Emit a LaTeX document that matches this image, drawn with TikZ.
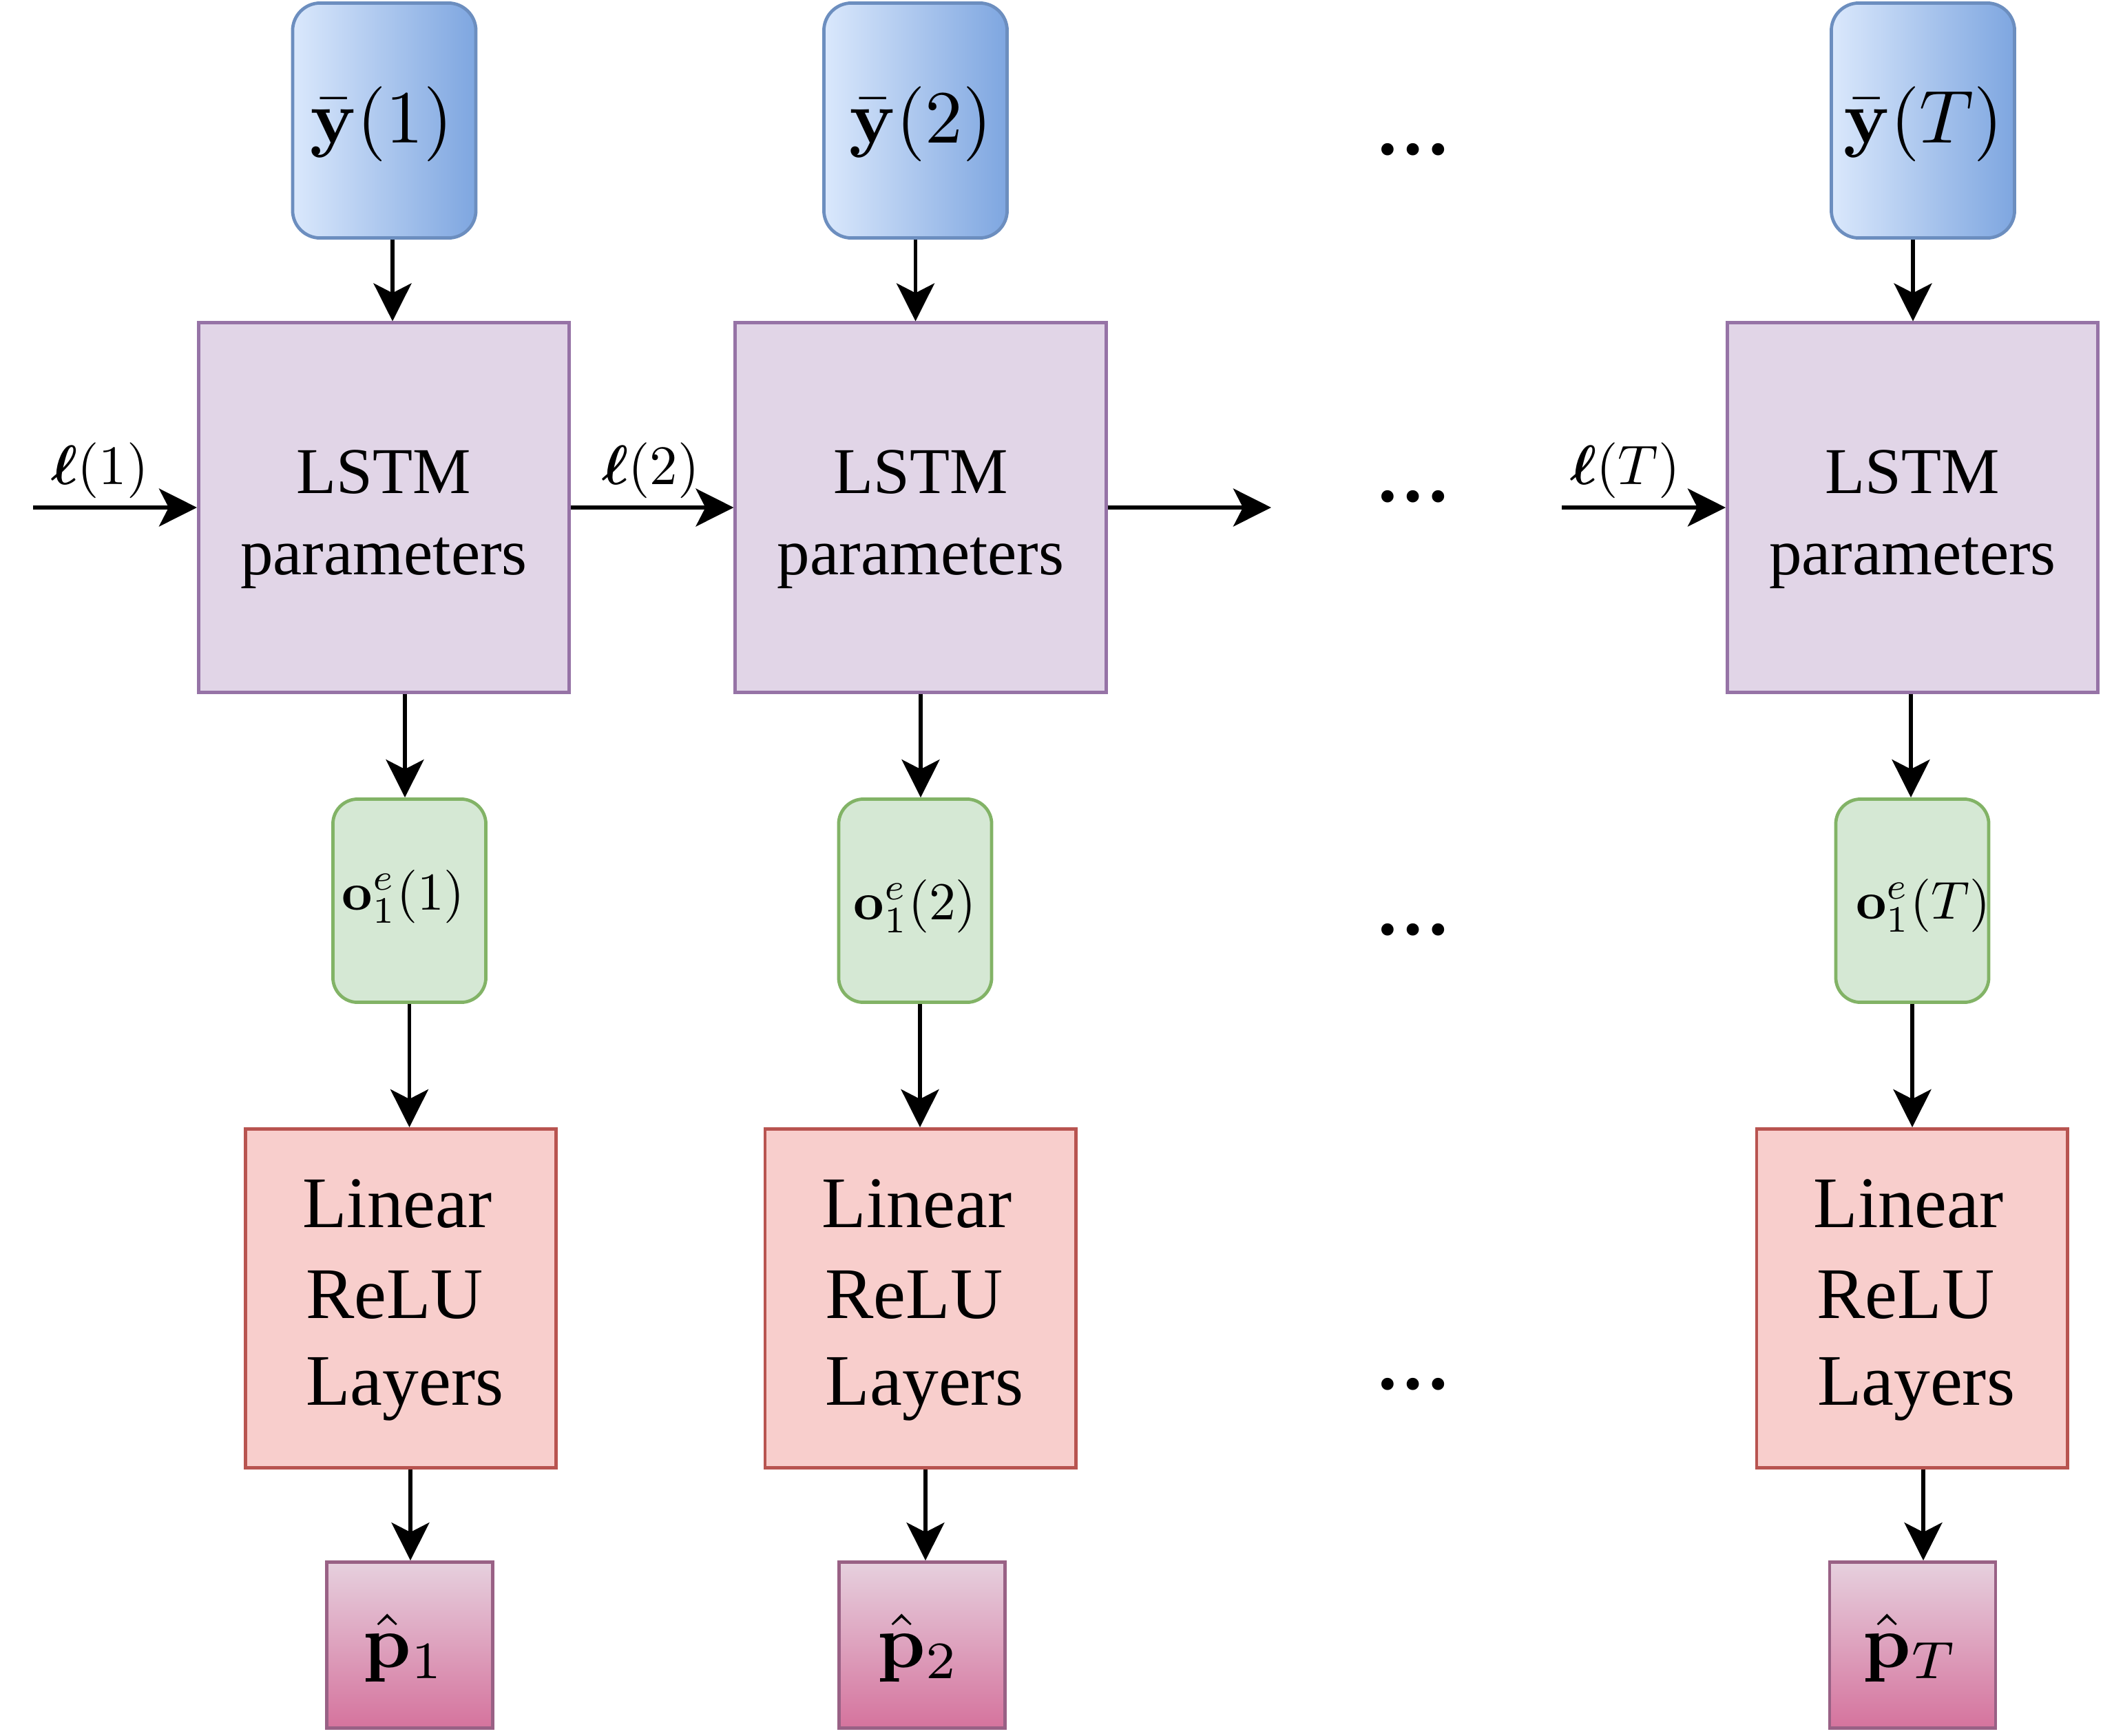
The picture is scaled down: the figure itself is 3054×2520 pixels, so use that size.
\RequirePackage{fix-cm}
\documentclass[tikz,border=0pt]{standalone}
\usepackage{amsmath}
\usepackage{bm}
\usepackage[no-math]{fontspec}
\setmainfont{Liberation Serif}
\newfontfamily\dotsfont{Liberation Serif}
\usetikzlibrary{arrows.meta}

\definecolor{bluefillA}{HTML}{DAE8FC}
\definecolor{bluefillB}{HTML}{7EA6E0}
\definecolor{bluedraw}{HTML}{6C8EBF}
\definecolor{lstmfill}{HTML}{E1D5E7}
\definecolor{lstmdraw}{HTML}{9673A6}
\definecolor{greenfill}{HTML}{D5E8D4}
\definecolor{greendraw}{HTML}{82B366}
\definecolor{redfill}{HTML}{F8CECC}
\definecolor{reddraw}{HTML}{B85450}
\definecolor{pinkA}{HTML}{E6D0DE}
\definecolor{pinkB}{HTML}{D5739D}
\definecolor{pinkdraw}{HTML}{996185}

\newcommand\mathat[2]{\scalebox{#1}{$#2$}}

\tikzset{
  box/.style={draw, line width=1.35pt, inner sep=0pt},
  ybox/.style={box, rounded corners=0.4cm, draw=bluedraw, left color=bluefillA, right color=bluefillB,
    minimum width=2.66cm, minimum height=3.41cm},
  lstmbox/.style={box, draw=lstmdraw, fill=lstmfill, minimum width=5.38cm, minimum height=5.36cm},
  obox/.style={box, rounded corners=0.36cm, draw=greendraw, fill=greenfill, minimum width=2.22cm, minimum height=2.95cm},
  relubox/.style={box, draw=reddraw, fill=redfill, minimum width=4.51cm, minimum height=4.92cm},
  pbox/.style={box, draw=pinkdraw, top color=pinkA, bottom color=pinkB, minimum width=2.41cm, minimum height=2.41cm},
  txt/.style={inner sep=0pt, anchor=base},
  mathtxt/.style={txt, font=\fontsize{10pt}{12pt}\selectfont},
  lstmtxt/.style={txt, font=\fontsize{27pt}{32pt}\selectfont},
  relutxt/.style={txt, font=\fontsize{30pt}{36pt}\selectfont},
  dotstxt/.style={txt, font=\dotsfont\bfseries\fontsize{31pt}{37pt}\selectfont},
  arr/.style={line width=1.45pt, -{Stealth[length=0.55cm, width=0.55cm, inset=0.14cm]}},
}

\begin{document}
\begin{tikzpicture}[x=0.01cm, y=-0.01cm]
\useasboundingbox (0,0) rectangle (3054,2520);

% boxes
\node[ybox] (y1) at (558,175) {};
\node[ybox] (y2) at (1329.5,175) {};
\node[ybox] (y3) at (2792.5,175) {};

\node[lstmbox] (l1) at (557.5,737) {};
\node[lstmbox] (l2) at (1337,737) {};
\node[lstmbox] (l3) at (2777.5,737) {};

\node[obox] (o1) at (594.5,1308) {};
\node[obox] (o2) at (1329,1308) {};
\node[obox] (o3) at (2777,1308) {};

\node[relubox] (r1) at (582,1885.5) {};
\node[relubox] (r2) at (1336.5,1885.5) {};
\node[relubox] (r3) at (2776.5,1885.5) {};

\node[pbox] (p1) at (595,2389) {};
\node[pbox] (p2) at (1339,2389) {};
\node[pbox] (p3) at (2777.5,2389) {};

% texts
\node[mathtxt] (y1t) at (554,207) {\mathat{3.1}{\bar{\mathbf{y}}(1)}};
\node[mathtxt] (y2t) at (1337,207) {\mathat{3.1}{\bar{\mathbf{y}}(2)}};
\node[mathtxt] (y3t) at (2793,207) {\mathat{3.1}{\bar{\mathbf{y}}(T)}};

\node[lstmtxt] (l1a) at (557.5,716) {LSTM};
\node[lstmtxt] (l1b) at (557.5,834) {parameters};
\node[lstmtxt] (l2a) at (1337,716) {LSTM};
\node[lstmtxt] (l2b) at (1337,834) {parameters};
\node[lstmtxt] (l3a) at (2777.5,716) {LSTM};
\node[lstmtxt] (l3b) at (2777.5,834) {parameters};

\node[mathtxt] (e1) at (145,703) {\mathat{2.3}{\bm{\ell}(1)}};
\node[mathtxt] (e2) at (945,703) {\mathat{2.3}{\bm{\ell}(2)}};
\node[mathtxt] (e3) at (2360,703) {\mathat{2.3}{\bm{\ell}(T)}};

\node[mathtxt] (o1t) at (586,1321) {\mathat{2.2}{\mathbf{o}_1^e(1)}};
\node[mathtxt] (o2t) at (1329,1335) {\mathat{2.2}{\mathbf{o}_1^e(2)}};
\node[mathtxt] (o3t) at (2793,1334) {\mathat{2.2}{\mathbf{o}_1^e(T)}};

\node[relutxt] (r1a) at (577,1782) {Linear};
\node[relutxt] (r1b) at (573,1914) {ReLU};
\node[relutxt] (r1c) at (588,2040) {Layers};
\node[relutxt] (r2a) at (1331.5,1782) {Linear};
\node[relutxt] (r2b) at (1327.5,1914) {ReLU};
\node[relutxt] (r2c) at (1342.5,2040) {Layers};
\node[relutxt] (r3a) at (2771.5,1782) {Linear};
\node[relutxt] (r3b) at (2767.5,1914) {ReLU};
\node[relutxt] (r3c) at (2782.5,2040) {Layers};

\node[mathtxt] (p1t) at (587,2421) {\mathat{3.1}{\hat{\mathbf{p}}_1}};
\node[mathtxt] (p2t) at (1334,2421) {\mathat{3.1}{\hat{\mathbf{p}}_2}};
\node[mathtxt] (p3t) at (2775,2421) {\mathat{3.1}{\hat{\mathbf{p}}_T}};

\node[dotstxt] (d1) at (2052,224) {…};
\node[dotstxt] (d2) at (2052,728) {…};
\node[dotstxt] (d3) at (2052,1357) {…};
\node[dotstxt] (d4) at (2052,2017) {…};

% horizontal connectors
\coordinate (in1) at (48,737);
\coordinate (out2) at (1846,737);
\coordinate (inT) at (2268,737);
\draw[arr] (in1) -- (l1.west);
\draw[arr] (l1.east) -- (l2.west);
\draw[arr] (l2.east) -- (out2);
\draw[arr] (inT) -- (l3.west);

% vertical connectors, column 1
\draw[arr] ([xshift=0.12cm]y1.south) -- ([xshift=0.12cm]y1.south |- l1.north);
\draw[arr] ([xshift=0.305cm]l1.south) -- ([xshift=0.305cm]l1.south |- o1.north);
\draw[arr] (o1.south) -- (o1.south |- r1.north);
\draw[arr] ([xshift=0.14cm]r1.south) -- ([xshift=0.14cm]r1.south |- p1.north);
% column 2
\draw[arr] (y2.south) -- (y2.south |- l2.north);
\draw[arr] (l2.south) -- (l2.south |- o2.north);
\draw[arr] ([xshift=0.07cm]o2.south) -- ([xshift=0.07cm]o2.south |- r2.north);
\draw[arr] ([xshift=0.075cm]r2.south) -- ([xshift=0.075cm]r2.south |- p2.north);
% column 3
\draw[arr] ([xshift=-0.145cm]y3.south) -- ([xshift=-0.145cm]y3.south |- l3.north);
\draw[arr] ([xshift=-0.025cm]l3.south) -- ([xshift=-0.025cm]l3.south |- o3.north);
\draw[arr] (o3.south) -- (o3.south |- r3.north);
\draw[arr] ([xshift=0.165cm]r3.south) -- ([xshift=0.165cm]r3.south |- p3.north);
\end{tikzpicture}
\end{document}
